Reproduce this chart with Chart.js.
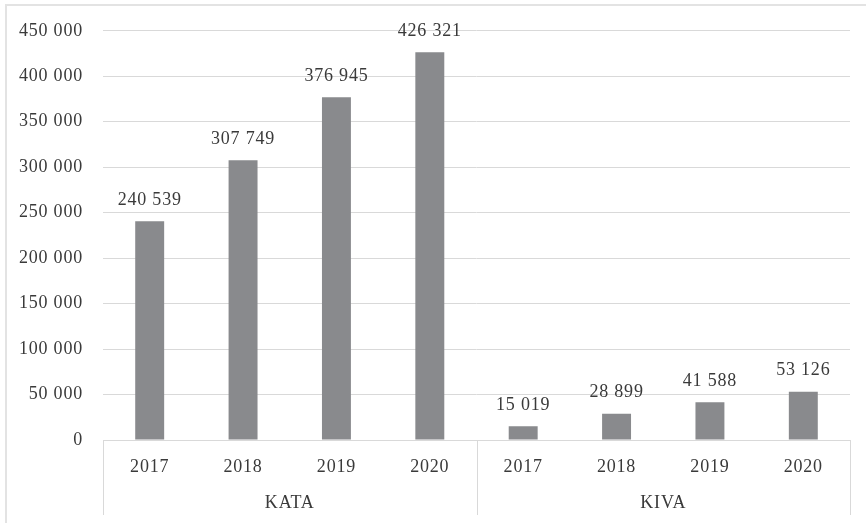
<!DOCTYPE html>
<html>
<head>
<meta charset="utf-8">
<script src="https://cdn.jsdelivr.net/npm/chart.js@4/dist/chart.umd.min.js"></script>
<style>
  html, body { margin: 0; padding: 0; background: #fff; overflow: hidden; }
  #frame { position: absolute; left: 5px; top: 4px; width: 900px; height: 560px;
           border-left: 2px solid #e3e3e3; border-top: 2px solid #e3e3e3; }
  #wrap { position: absolute; left: 0; top: 0; width: 866px; height: 523px; }
</style>
</head>
<body>
<div id="frame"></div>
<div id="wrap"><canvas id="bars"></canvas></div>
<script>
// values
const years = ['2017', '2018', '2019', '2020'];
const groups = ['KATA', 'KIVA'];
const kata = [240539, 307749, 376945, 426321];
const kiva = [15019, 28899, 41588, 53126];

const labels = years.concat(years);
const values = kata.concat(kiva);

const FONT = '"Liberation Serif", "DejaVu Serif", serif';
const TEXT = '#3a3a3a';
const GRID = '#d9d9d9';

function fmt(n) {
  return String(n).replace(/\B(?=(\d{3})+(?!\d))/g, ' ');
}

// a bit of tracking, the original font is a wide Garamond
const spacing = {
  id: 'spacing',
  beforeLayout(chart) { chart.ctx.letterSpacing = '0.8px'; },
  beforeDraw(chart) { chart.ctx.letterSpacing = '0.8px'; }
};

// value labels above each bar
const valueLabels = {
  id: 'valueLabels',
  afterDatasetsDraw(chart) {
    const ctx = chart.ctx;
    const meta = chart.getDatasetMeta(0);
    ctx.save();
    ctx.font = '18px ' + FONT;
    ctx.fillStyle = TEXT;
    ctx.textAlign = 'center';
    ctx.textBaseline = 'middle';
    meta.data.forEach((bar, i) => {
      ctx.fillText(fmt(values[i]), bar.x, bar.y - 21);
    });
    ctx.restore();
  }
};

// vertical separators of the grouped category axis
const groupLines = {
  id: 'groupLines',
  afterDraw(chart) {
    const ctx = chart.ctx;
    const x = chart.scales.x;
    const x2 = chart.scales.x2;
    const step = x.getPixelForValue(1) - x.getPixelForValue(0);
    const top = chart.chartArea.bottom;
    const bottom = x2.bottom;
    ctx.save();
    ctx.strokeStyle = GRID;
    ctx.lineWidth = 1;
    for (let g = 0; g <= groups.length; g++) {
      const idx = g * years.length;
      const px = Math.round(x.getPixelForValue(0) + (idx - 0.5) * step) + 0.5;
      ctx.beginPath();
      ctx.moveTo(px, top);
      ctx.lineTo(px, bottom);
      ctx.stroke();
    }
    ctx.restore();
  }
};

new Chart(document.getElementById('bars'), {
  type: 'bar',
  data: {
    labels: labels,
    datasets: [{
      data: values,
      backgroundColor: '#898a8d',
      barPercentage: 0.31,
      categoryPercentage: 1
    }]
  },
  options: {
    responsive: true,
    maintainAspectRatio: false,
    animation: false,
    layout: { padding: { top: 20, right: 16, left: 0, bottom: 8 } },
    plugins: { legend: { display: false }, tooltip: { enabled: false } },
    scales: {
      y: {
        min: 0,
        max: 450000,
        ticks: {
          stepSize: 50000,
          padding: 20,
          color: TEXT,
          font: { family: FONT, size: 18 },
          callback: v => fmt(v)
        },
        grid: { color: GRID, drawTicks: false },
        border: { display: false },
        afterFit: s => { s.width = 103; }
      },
      x: {
        ticks: {
          color: TEXT,
          font: { family: FONT, size: 18 },
          padding: 8,
          maxRotation: 0
        },
        grid: { display: false },
        border: { display: true, color: GRID },
        afterFit: s => { s.height = 38; }
      },
      x2: {
        type: 'category',
        position: 'bottom',
        labels: groups,
        offset: true,
        ticks: {
          color: TEXT,
          font: { family: FONT, size: 18 },
          padding: 6
        },
        grid: { display: false },
        border: { display: false },
        afterFit: s => { s.height = 37; }
      }
    }
  },
  plugins: [spacing, valueLabels, groupLines]
});
</script>
</body>
</html>
